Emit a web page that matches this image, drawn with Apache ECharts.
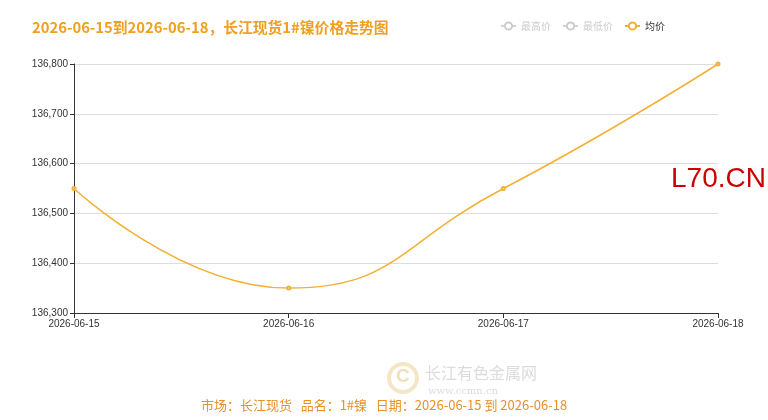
<!DOCTYPE html>
<html><head><meta charset="utf-8">
<script src="https://cdn.jsdelivr.net/npm/echarts@6/dist/echarts.min.js"></script>
<style>html,body{margin:0;padding:0;background:#fff}#c{width:768px;height:420px}</style>
</head><body><div id="c"></div>
<script>
var categories = ['2026-06-15','2026-06-16','2026-06-17','2026-06-18'];
var avgPrice = [136550, 136350, 136550, 136800];
var highPrice = [];
var lowPrice = [];
var legendNames = ['最高价','最低价','均价'];
var titleText = '2026-06-15到2026-06-18，长江现货1#镍价格走势图';
var footerText = '市场：长江现货   品名：1#镍   日期：2026-06-15 到 2026-06-18';

var chart = echarts.init(document.getElementById('c'), null, {renderer:'canvas'});
chart.setOption({
  animation:false,
  backgroundColor:'#fff',
  title:{text:titleText,left:27,top:15,textStyle:{color:'#f0a020',fontSize:14.8,fontWeight:'bold',fontFamily:'Microsoft YaHei, Noto Sans CJK SC, sans-serif'}},
  legend:{data:legendNames,right:98,top:16,itemWidth:15,itemHeight:9,itemGap:11,
    textStyle:{fontSize:10,color:'#333',fontFamily:'Noto Sans CJK SC'},
    inactiveColor:'#ccc',
    selected:{'最高价':false,'最低价':false,'均价':true}},
  grid:{left:74,right:50,top:64,bottom:107},
  xAxis:{type:'category',data:categories,boundaryGap:false,
    axisLine:{lineStyle:{color:'#333'}},axisTick:{show:true,alignWithLabel:true},
    axisLabel:{color:'#333',fontSize:10,margin:6,interval:0},splitLine:{show:false}},
  yAxis:{type:'value',min:136300,max:136800,interval:100,
    axisLine:{show:true,lineStyle:{color:'#333'}},axisTick:{show:true,length:4},
    axisLabel:{color:'#333',fontSize:10,margin:6},
    splitLine:{lineStyle:{color:'#ddd'}}},
  series:[
    {name:'最高价',type:'line',smooth:true,data:highPrice,itemStyle:{color:'#c23531'}},
    {name:'最低价',type:'line',smooth:true,data:lowPrice,itemStyle:{color:'#2f4554'}},
    {name:'均价',type:'line',smooth:true,data:avgPrice,symbol:'emptyCircle',symbolSize:3,
      itemStyle:{color:'#f2b134'},lineStyle:{color:'#f2b134',width:1.5}}
  ],
  graphic:[
    {type:'text',left:671,top:165,style:{text:'L70.CN',fill:'#cc0000',font:'28px Liberation Sans, Arial, sans-serif'}},
    {type:'circle',shape:{cx:403,cy:378,r:14},style:{fill:'none',stroke:'#f5e6c6',lineWidth:4}},
    {type:'text',left:396,top:367,style:{text:'C',fill:'#f2dfb5',font:'bold 19px sans-serif'}},
    {type:'text',left:425,top:365,style:{text:'长江有色金属网',fill:'#dcdcdc',font:'16px Noto Sans CJK SC'}},
    {type:'text',left:428,top:386,style:{text:'www.ccmn.cn',fill:'#dcdcdc',font:'10px DejaVu Serif',letterSpacing:4}},
    {type:'text',left:'center',top:399,style:{text:footerText,fill:'#e8902a',font:'13px Noto Sans CJK SC'}}
  ]
});
</script></body></html>
